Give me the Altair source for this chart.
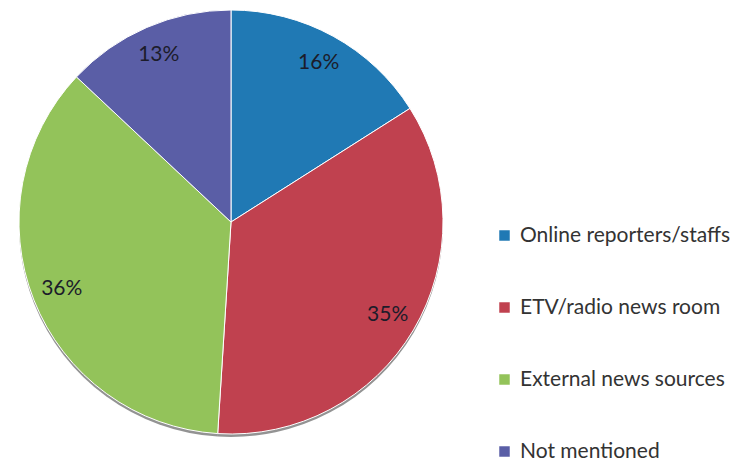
import altair as alt
import pandas as pd

categories = ["Online reporters/staffs", "ETV/radio news room", "External news sources", "Not mentioned"]
values = [16, 35, 36, 13]
labels = ["16%", "35%", "36%", "13%"]
colors = ["#2079b4", "#c0414f", "#93c35a", "#5a5ea6"]

df = pd.DataFrame({"category": categories, "value": values, "label": labels, "idx": list(range(len(values)))})

base = alt.Chart(df).encode(
    theta=alt.Theta("value:Q", stack=True),
    order=alt.Order("idx:Q"),
)

shadow = base.mark_arc(radius=212, color="#3a3a3a", opacity=0.55).encode(
    x=alt.value(223),
    y=alt.value(215),
)

pie = base.mark_arc(radius=212, stroke="white", strokeWidth=1).encode(
    x=alt.value(223),
    y=alt.value(212),
    color=alt.Color(
        "category:N",
        scale=alt.Scale(domain=categories, range=colors),
        sort=categories,
        legend=alt.Legend(
            title=None,
            orient="none",
            legendX=486,
            legendY=215,
            symbolType="square",
            symbolSize=110,
            symbolStrokeWidth=0,
            labelFontSize=21,
            labelFont="Lato",
            labelColor="#333333",
            labelLimit=400,
            rowPadding=50,
            labelOffset=5,
        ),
    ),
)

text = base.mark_text(radius=182, fontSize=21, font="Lato", color="#1c1c2a").encode(
    x=alt.value(223),
    y=alt.value(212),
    text="label:N",
)

chart = (shadow + pie + text).properties(width=720, height=440, padding=0).configure_view(stroke=None)

chart.save("out.html", embed_options={"renderer": "svg", "actions": False})
